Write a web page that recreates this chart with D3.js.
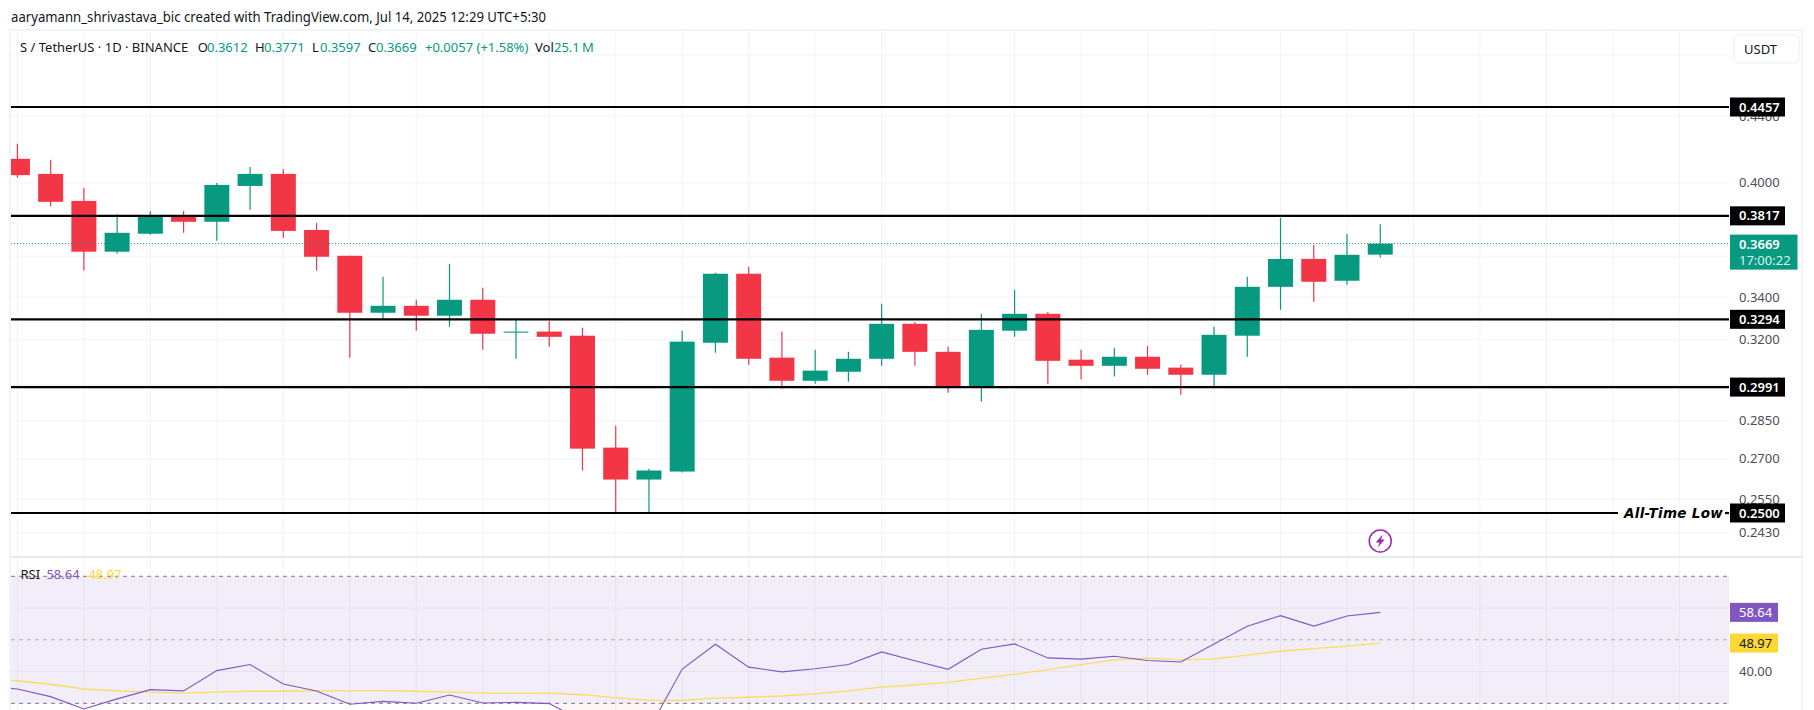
<!DOCTYPE html>
<html>
<head>
<meta charset="utf-8">
<style>
  html, body { margin: 0; padding: 0; background: #fff; }
  svg { display: block; }
  text { font-family: "Noto Sans", "Liberation Sans", sans-serif; }
</style>
<script src="https://cdn.jsdelivr.net/npm/d3@7/dist/d3.min.js"></script>
</head>
<body>
<svg id="chart" width="1814" height="710"></svg>
<script>
// Daily S/USDT candles, oldest first
const open_  = [.4140,.4052,.3899,.3627,.3721,.3817,.3785,.3983,.4052,.3741,.3606,.3325,.3358,.3311,.3387,.3232,.3237,.3218,.2744,.2622,.2652,.3186,.3515,.3119,.3018,.3057,.3114,.3273,.3145,.2991,.3241,.3320,.3110,.3083,.3123,.3075,.3044,.3218,.3450,.3590,.3480,.3612];
const high_  = [.4229,.4134,.3971,.3826,.3844,.3844,.4000,.4092,.4081,.3779,.3606,.3500,.3387,.3565,.3445,.3294,.3287,.3255,.2831,.2663,.3241,.3520,.3550,.3237,.3154,.3145,.3368,.3282,.3168,.3320,.3436,.3329,.3154,.3163,.3172,.3088,.3259,.3500,.3806,.3663,.3720,.3771];
const low_   = [.4030,.3868,.3532,.3617,.3716,.3726,.3684,.3850,.3699,.3530,.3119,.3294,.3241,.3259,.3154,.3114,.3168,.2656,.2500,.2500,.2648,.3141,.3088,.2984,.3005,.3014,.3083,.3083,.2967,.2930,.3213,.3005,.3023,.3036,.3044,.2959,.2988,.3123,.3339,.3377,.3460,.3597];
const close_ = [.4045,.3894,.3627,.3726,.3817,.3785,.3989,.4052,.3736,.3601,.3325,.3358,.3311,.3387,.3227,.3237,.3213,.2740,.2622,.2656,.3191,.3515,.3114,.3018,.3062,.3114,.3273,.3145,.2991,.3245,.3320,.3105,.3083,.3123,.3070,.3044,.3222,.3450,.3590,.3475,.3611,.3669];

// RSI and its moving average; each starts one bar before the first candle
const rsiValues = [35.5,34.5,32.1,28.2,31.4,34.3,33.9,40.3,42.2,36.1,33.9,29.7,30.6,30.0,32.6,30.1,30.3,29.9,24.5,21.5,21.8,40.8,48.6,41.4,39.9,40.9,42.2,46.2,43.4,40.7,47.0,48.7,44.3,43.9,44.8,43.5,43.0,48.7,54.3,57.6,54.3,57.5,58.64];
const rsiMaValues = [37.6,37.1,36.0,34.5,33.9,33.5,33.2,33.5,33.8,33.8,33.9,33.9,33.9,33.8,33.5,33.2,33.2,33.2,32.7,31.8,30.9,30.9,31.6,31.9,32.3,33.0,33.9,35.1,35.8,36.6,37.9,39.1,40.6,42.2,43.7,44.2,43.7,44.0,45.2,46.4,47.2,48.0,48.97];

// Axis ticks: every tick gets a grid line, the labelled ones get text too
const priceTicks = [0.48, 0.44, 0.40, 0.38, 0.36, 0.34, 0.32, 0.30, 0.285, 0.27, 0.255, 0.243];
const labelledTicks = [0.44, 0.40, 0.34, 0.32, 0.285, 0.27, 0.255, 0.243];
const labelledTickText = ["0.4400","0.4000","0.3400","0.3200","0.2850","0.2700","0.2550","0.2430"];
const rsiGridLevels = [60, 40];
const rsiDashLevels = [70, 50, 30];

// Horizontal levels drawn on the chart
const levels = [0.4457, 0.3817, 0.3294, 0.2991, 0.2500];
const levelLabels = ["0.4457", "0.3817", "0.3294", "0.2991", "0.2500"];
const lastPrice = 0.3669;
const lastRsi = 58.64;
const lastRsiMa = 48.97;

const UP = "#089981", DOWN = "#F23645", GRID = "#f0f3fa", INK = "#131722", AXIS = "#4a4e59";
const PURPLE = "#7E57C2", YELLOW = "#FDD835";

const left = 11, plotRight = 1729, frameRight = 1802, axisText = 1739;
const barStep = 33.24, bodyWidth = 25;
const paneTop = 30, paneSplit = 557, bottom = 710;

const svg = d3.select("#chart");

// Bar index to pixel; the axis keeps running past the last candle
const x = d3.scaleLinear().domain([0, 1]).range([17.4, 17.4 + barStep]);
const y = d3.scaleLog().domain([0.4457, 0.25]).range([107, 513]);
const yRsi = d3.scaleLinear().domain([70, 30]).range([576.3, 703.3]);

const defs = svg.append("defs");
defs.append("clipPath").attr("id", "plot").append("rect")
  .attr("x", left).attr("y", paneTop).attr("width", plotRight - left).attr("height", bottom - paneTop);
defs.append("clipPath").attr("id", "oversold").append("rect")
  .attr("x", left).attr("y", yRsi(30)).attr("width", plotRight - left).attr("height", bottom - yRsi(30));

// Vertical grid every second bar, through both panes
const gridBars = d3.range(0, 51, 2);
svg.append("g").selectAll("line").data(gridBars).join("line")
  .attr("x1", d => x(d)).attr("x2", d => x(d))
  .attr("y1", paneTop).attr("y2", bottom)
  .attr("stroke", GRID).attr("stroke-width", 1);

// Horizontal price grid
svg.append("g").selectAll("line").data(priceTicks).join("line")
  .attr("x1", left).attr("x2", plotRight)
  .attr("y1", d => y(d)).attr("y2", d => y(d))
  .attr("stroke", GRID).attr("stroke-width", 1);

// Frame and pane separator
svg.append("path")
  .attr("d", `M${left - 1},${bottom}V${paneTop}H${frameRight}V${bottom}`)
  .attr("fill", "none").attr("stroke", GRID).attr("stroke-width", 2);
svg.append("line").attr("x1", left).attr("x2", frameRight)
  .attr("y1", paneSplit).attr("y2", paneSplit)
  .attr("stroke", "#e0e3eb").attr("stroke-width", 1.5);

// Price axis labels
svg.append("g").selectAll("text").data(labelledTicks).join("text")
  .attr("x", axisText).attr("y", d => y(d) + 4.5)
  .attr("font-size", 13).attr("fill", AXIS)
  .text((d, i) => labelledTickText[i]);

// Candles
const idx = d3.range(close_.length);
const candles = svg.append("g").attr("clip-path", "url(#plot)");
candles.selectAll("line").data(idx).join("line")
  .attr("x1", i => x(i)).attr("x2", i => x(i))
  .attr("y1", i => y(high_[i])).attr("y2", i => y(low_[i]))
  .attr("stroke", i => close_[i] >= open_[i] ? UP : DOWN)
  .attr("stroke-width", 1.2);
candles.selectAll("rect").data(idx).join("rect")
  .attr("x", i => x(i) - bodyWidth / 2).attr("width", bodyWidth)
  .attr("y", i => y(Math.max(open_[i], close_[i])))
  .attr("height", i => Math.max(1, Math.abs(y(open_[i]) - y(close_[i]))))
  .attr("fill", i => close_[i] >= open_[i] ? UP : DOWN);

// Last price marker
svg.append("line").attr("x1", left).attr("x2", plotRight)
  .attr("y1", y(lastPrice)).attr("y2", y(lastPrice))
  .attr("stroke", UP).attr("stroke-width", 1).attr("stroke-dasharray", "1 2");

// Support and resistance levels
const levelLines = svg.append("g");
levels.forEach(lv => {
  if (lv === 0.25) {
    levelLines.append("line").attr("x1", left).attr("x2", 1618).attr("y1", y(lv)).attr("y2", y(lv))
      .attr("stroke", "#000").attr("stroke-width", 2.2);
    levelLines.append("line").attr("x1", 1725).attr("x2", plotRight).attr("y1", y(lv)).attr("y2", y(lv))
      .attr("stroke", "#000").attr("stroke-width", 2.2);
  } else {
    levelLines.append("line").attr("x1", left).attr("x2", plotRight).attr("y1", y(lv)).attr("y2", y(lv))
      .attr("stroke", "#000").attr("stroke-width", 2.2);
  }
});
svg.append("text").attr("x", 1624).attr("y", y(0.25) + 5)
  .attr("font-style", "italic").attr("font-weight", 600)
  .attr("font-size", 13.5).attr("fill", "#000").attr("letter-spacing", 0.3)
  .style("font-family", "'DejaVu Sans'").text("All-Time Low");

// Level tags
const tags = svg.append("g");
levels.forEach((lv, i) => {
  tags.append("rect").attr("x", 1730).attr("width", 55).attr("y", y(lv) - 9.5).attr("height", 19).attr("fill", "#000");
  tags.append("text").attr("x", axisText).attr("y", y(lv) + 4.5)
    .attr("font-size", 13).attr("font-weight", 600).attr("fill", "#fff").text(levelLabels[i]);
});

// Last price tag with countdown
svg.append("rect").attr("x", 1730).attr("width", 67.5).attr("y", y(lastPrice) - 9).attr("height", 35).attr("fill", UP);
svg.append("text").attr("x", axisText).attr("y", y(lastPrice) + 5)
  .attr("font-size", 13).attr("font-weight", 600).attr("fill", "#fff").text(d3.format(".4f")(lastPrice));
svg.append("text").attr("x", axisText).attr("y", y(lastPrice) + 21)
  .attr("font-size", 13).attr("fill", "#d9f2ec").text("17:00:22");

// RSI band
svg.append("rect").attr("x", left).attr("width", plotRight - left)
  .attr("y", yRsi(70)).attr("height", yRsi(30) - yRsi(70))
  .attr("fill", PURPLE).attr("fill-opacity", 0.1);
svg.append("g").selectAll("line").data(rsiGridLevels).join("line")
  .attr("x1", left).attr("x2", plotRight).attr("y1", d => yRsi(d)).attr("y2", d => yRsi(d))
  .attr("stroke", "#e4e2ee").attr("stroke-width", 1);
svg.append("g").selectAll("line").data(rsiDashLevels).join("line")
  .attr("x1", left).attr("x2", plotRight).attr("y1", d => yRsi(d)).attr("y2", d => yRsi(d))
  .attr("stroke", d => d === 50 ? "#a9a7b3" : "#787b86").attr("stroke-width", 1).attr("stroke-dasharray", "4 4");

// RSI lines, with a pale tint where the reading sits below 30
const barOf = i => x(i - 1);
const rsiLine = d3.line().x((d, i) => barOf(i)).y(d => yRsi(d));
const oversoldArea = d3.area().x((d, i) => barOf(i)).y0(yRsi(30)).y1(d => yRsi(d));
svg.append("path").attr("clip-path", "url(#oversold)").attr("d", oversoldArea(rsiValues))
  .attr("fill", DOWN).attr("fill-opacity", 0.05);
const rsiPane = svg.append("g").attr("clip-path", "url(#plot)");
rsiPane.append("path").attr("d", rsiLine(rsiMaValues)).attr("fill", "none")
  .attr("stroke", YELLOW).attr("stroke-width", 1.3).attr("stroke-opacity", 0.8);
rsiPane.append("path").attr("d", rsiLine(rsiValues)).attr("fill", "none")
  .attr("stroke", PURPLE).attr("stroke-width", 1.1);

// RSI tags and axis label
svg.append("text").attr("x", axisText).attr("y", yRsi(40) + 4.5).attr("font-size", 13).attr("fill", AXIS).text("40.00");
svg.append("rect").attr("x", 1730).attr("width", 48).attr("y", yRsi(lastRsi) - 9.5).attr("height", 19).attr("fill", PURPLE);
svg.append("text").attr("x", axisText).attr("y", yRsi(lastRsi) + 4.5).attr("font-size", 13).attr("fill", "#fff").text(d3.format(".2f")(lastRsi));
svg.append("rect").attr("x", 1730).attr("width", 48).attr("y", yRsi(lastRsiMa) - 9.5).attr("height", 19).attr("fill", YELLOW);
svg.append("text").attr("x", axisText).attr("y", yRsi(lastRsiMa) + 4.5).attr("font-size", 13).attr("fill", INK).text(d3.format(".2f")(lastRsiMa));

// Event marker above the last bar
const marker = svg.append("g").attr("transform", `translate(${x(41)},541)`);
marker.append("circle").attr("r", 11).attr("fill", "#fff").attr("stroke", "#9C27B0").attr("stroke-width", 1.5);
marker.append("path").attr("d", "M2.5,-6.5 L-4.5,1.5 L-0.8,1.5 L-2.5,6.5 L4.5,-1.5 L0.8,-1.5 Z").attr("fill", "#9C27B0");

// Attribution line
svg.append("text").attr("x", 11).attr("y", 22).attr("font-size", 14).attr("fill", INK)
  .attr("textLength", 535).attr("lengthAdjust", "spacingAndGlyphs")
  .text("aaryamann_shrivastava_bic created with TradingView.com, Jul 14, 2025 12:29 UTC+5:30");

// Symbol legend
const legendY = 52;
const legend = [
  [20, "S / TetherUS · 1D · BINANCE", INK], [197.7, "O", INK], [207, "0.3612", UP],
  [255, "H", INK], [264, "0.3771", UP], [312, "L", INK], [320, "0.3597", UP],
  [368, "C", INK], [376, "0.3669", UP], [425, "+0.0057 (+1.58%)", UP],
  [535, "Vol", INK], [554, "25.1\u2009M", UP]
];
svg.append("g").selectAll("text").data(legend).join("text")
  .attr("x", d => d[0]).attr("y", legendY).attr("font-size", 13).attr("fill", d => d[2]).text(d => d[1]);

// Currency button
svg.append("rect").attr("x", 1734).attr("y", 35).attr("width", 65).attr("height", 28).attr("rx", 5)
  .attr("fill", "#fff").attr("stroke", GRID).attr("stroke-width", 1.5);
svg.append("text").attr("x", 1744).attr("y", 54).attr("font-size", 13).attr("fill", INK).text("USDT");

// RSI legend
svg.append("text").attr("x", 20.5).attr("y", 579).attr("font-size", 13).attr("fill", INK).text("RSI");
svg.append("text").attr("x", 46.4).attr("y", 579).attr("font-size", 13).attr("fill", PURPLE).text(d3.format(".2f")(lastRsi));
svg.append("text").attr("x", 88.4).attr("y", 579).attr("font-size", 13).attr("fill", YELLOW).text(d3.format(".2f")(lastRsiMa));
</script>
</body>
</html>
